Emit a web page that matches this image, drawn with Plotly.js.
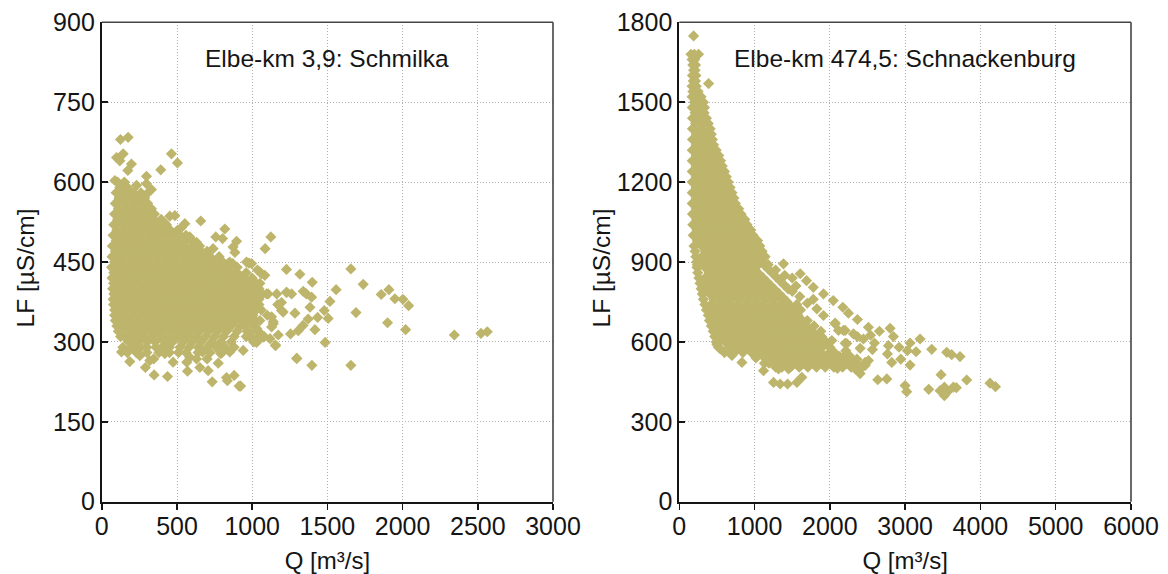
<!DOCTYPE html>
<html><head><meta charset="utf-8">
<script src="https://cdn.plot.ly/plotly-3.0.1.min.js"></script>
<style>html,body{margin:0;padding:0;background:#fff}</style></head>
<body><div id="chart" style="width:1168px;height:574px"></div>
<script>
const markerColor = '#BEB56C';
const xTicksLeft = [0,500,1000,1500,2000,2500,3000];
const yTicksLeft = [0,150,300,450,600,750,900];
const xTicksRight = [0,1000,2000,3000,4000,5000,6000];
const yTicksRight = [0,300,600,900,1200,1500,1800];
const titleLeft = 'Elbe-km 3,9: Schmilka';
const titleRight = 'Elbe-km 474,5: Schnackenburg';
const xTitle = 'Q [m³/s]';
const yTitle = 'LF [µS/cm]';

const schmilkaRowLF = [600,590,580,570,560,550,540,530,520,510,500,490,480,470,460,450,440,430,420,410,400,390,380,370,360,350,340,330,320,310,300,290,280];
const schmilkaRowQ = [
[105,150],[120,170],[95,150,210,260],[115,175,235,285],[90,145,205,265,305],[110,170,230,290,330],[85,140,200,260,320,350],
[105,165,225,285,345,395],[80,135,195,255,315,375,430],[100,160,220,280,340,400,455,505],
[75,130,190,250,310,370,430,490,520,560],[95,155,215,275,335,395,455,515,560,600],[70,125,185,245,305,365,425,485,545,600,650],
[90,150,210,270,330,390,450,510,570,630,660,700],[68,120,180,240,300,360,420,480,540,600,660,720,780],
[85,145,205,265,325,385,445,505,565,625,685,745,805,850],[65,115,175,235,295,355,415,475,535,595,655,715,775,825,900],
[80,140,200,260,320,380,440,500,560,620,680,740,800,860,890,960],[68,110,170,230,290,350,410,470,530,590,650,710,770,830,890,945,1000],
[78,135,195,255,315,375,435,495,555,615,675,735,795,855,915,970,1025],[72,105,165,225,285,345,405,465,525,585,645,705,765,825,885,945,1000,1045],
[80,130,190,250,310,370,430,490,550,610,670,730,790,850,910,970,1030,1065],[75,100,160,220,280,340,400,460,520,580,640,700,760,820,880,940,1000,1045],
[78,130,190,250,310,370,430,490,550,610,670,730,790,850,910,970,1020,1045],[85,105,160,220,280,340,400,460,520,580,640,700,760,820,880,940,1000,1025],
[85,135,195,255,315,375,435,495,555,615,675,735,795,855,915,975,1005],[90,110,165,225,285,345,405,465,525,585,645,705,765,825,885,945,985],
[100,140,200,260,320,380,440,500,560,620,680,740,800,860,920,950,1005],[110,170,230,290,350,410,470,530,590,650,710,770,830,900,965,1040],
[125,150,205,265,325,385,445,505,565,625,690,750,810,880,960,1050],[180,235,300,355,420,470,540,600,660,730,790,860,1010],
[140,200,260,300,360,400,450,520,580,640,700,760,820,880],[170,230,300,380,450,560,640,720,800]];
const schmilkaExtraQ = [124,175,463,503,392,142,98,197,297,173,120,87,231,297,330,197,297,452,486,552,530,658,818,803,758,1124,1086,896,873,885,630,585,740,700,
962,996,1228,1317,1399,1051,1084,1051,840,870,900,940,978,1656,1738,1558,1858,1909,1949,2002,2040,1517,1690,1900,2020,2344,2521,2563,1485,1297,1397,1656,1155,940,923,
1339,1360,1395,1384,1479,1435,1505,1284,1417,1372,1338,1306,1255,1173,1228,1262,1195,1206,1140,1106,1062,1035,1100,1050,1020,1040,1080,1000,
131,186,290,348,437,319,253,474,570,565,652,707,734,829,880,835,913,774,700,585,630,419,345,510,851,790,670,1029,1118,1155,1295,
1095,1163,1229,1060,1040,1129,1195,1170,1051,1030,985,1072,1018,1129,1018,1140];
const schmilkaExtraLF = [680,684,653,636,623,653,646,634,611,622,640,603,594,597,586,581,577,536,537,522,515,527,512,494,497,497,475,489,478,468,487,497,475,468,
450,447,436,427,412,431,425,410,447,447,430,421,448,437,408,398,389,398,381,380,368,376,355,336,323,313,316,319,299,269,256,256,294,284,217,
395,390,384,365,359,346,344,354,323,343,331,321,315,313,393,390,374,356,334,390,428,435,350,385,340,320,310,305,
281,263,252,238,235,265,274,262,245,262,252,246,225,233,237,227,217,260,268,271,268,278,268,280,281,278,281,299,306,293,269,
390,390,393,360,365,347,359,370,340,325,315,309,305,328,385,338];

const schnackRowLF = [1680,1660,1640,1620,1600,1580,1560,1540,1520,1500,1480,1460,1440,1420,1400,1380,1360,1340,1320,1300,1280,1260,1240,1220,1200,1180,1160,1140,1120,1100,1080,1060,1040,1020,1000,980,960,940,920,900,890,880,860,840,820,800,780,760,740,720,700,680,660,640,620,600,580,560,540,520,505];
const schnackRowQ = [
[155,200,256],[170,205],[180,215],[190,210],[175,220],[185,215],[170,225],[180,250],[170,240,290],[200,320],[172,260,335],[210,330],[175,280,360],[215,330,385],[175,290,410],[225,340,425],
[175,285,400,440],[225,340,455],[172,285,400,490],[225,340,455,525],[172,285,400,510,548],[225,340,455,570],[172,285,400,515,600],[225,340,455,570,625],[172,285,400,515,630,650],[225,340,455,570,675],
[172,285,400,515,630,700],[225,340,455,570,685,725],[172,285,400,515,630,745],[225,340,455,570,685,790],[175,285,400,515,630,745,820],[230,340,455,570,685,800,870],[180,285,400,515,630,745,860,900],
[235,345,460,575,690,805,920,950],[185,290,405,520,635,750,865,980],[240,350,465,580,695,810,925,1040],[195,295,410,525,640,755,870,985,1070],[210,350,465,580,695,810,925,1040,1100],[220,300,415,530,645,760,875,990,1105,1140],
[230,355,470,585,700,815,930,1045,1000],[240,285,400,515,630,745,860,975,1050],[235,340,455,570,685,800,915,960],[245,400,515,630,745,860,975,1030],[260,340,455,570,685,800,915,1030,1090],[275,400,515,630,745,860,975,1090,1160],[290,345,460,575,690,805,920,1035,1150,1240],
[305,405,520,635,750,865,980,1095,1210,1300],[320,460,575,690,805,920,1035,1150,1265,1380],[340,420,535,650,765,880,995,1110,1225,1340,1455,1560],[360,480,595,710,825,940,1055,1170,1285,1400,1515,1610],
[385,425,540,655,770,885,1000,1115,1230,1345,1460,1575],[400,485,600,715,830,945,1060,1175,1290,1405,1520,1635,1700],[425,545,660,775,890,1005,1120,1235,1350,1465,1580,1695,1790],[450,490,605,720,835,950,1065,1180,1295,1410,1525,1640,1755,1880],
[470,550,665,780,895,1010,1125,1240,1355,1470,1585,1700,1815,1890],[490,610,725,840,955,1070,1185,1300,1415,1530,1645,1760,1875,1950],[520,670,785,900,1015,1130,1245,1360,1475,1590,1705,1820,1900,2000],
[600,730,845,960,1075,1190,1305,1420,1535,1650,1765,1880,1995,2060],[1018,1133,1248,1363,1478,1593,1708,1823,1938,2053,2168,2250],[1130,1190,1305,1420,1535,1650,1765,1880,1995,2110,2225,2345],[1280,1363,1478,1593,1708,1823,1938,2053,2168,2283,2400]];
const schnackExtraQ = [190,389,1128,1234,1340,1446,1180,1280,1384,1400,1500,1606,1550,1690,1780,1915,2045,1500,1600,1700,1780,1827,1915,2070,2180,2225,
2172,2247,2366,2512,2658,2800,2844,3065,3198,3353,3552,3618,3729,3145,3030,2919,2778,2765,2822,2942,3065,3477,3818,4127,4200,2636,2756,2999,3021,3313,3464,3521,3521,3560,3640,3680,
2203,2212,2402,2565,2592,2446,2540,2313,2203,2070,2114,2026,2365,2336,2402,2468,2512,2430,2100,
544,699,832,1119,1252,1340,1438,1562,1628,1318,1450,500,
1008,1060,1115,1168,1221,1274,1327,1380,1433,1180,1287,1393,2060,2130,2190,2260,2300,2360,2400,2470];
const schnackExtraLF = [1749,1570,889,859,829,799,890,870,893,850,840,856,810,830,805,780,755,790,770,745,760,724,699,668,643,594,
730,708,684,655,640,651,620,596,611,572,561,552,545,563,567,580,586,555,523,535,513,477,457,445,432,458,461,436,413,422,417,398,430,412,430,428,
595,567,576,571,596,611,625,630,643,671,643,605,620,499,481,523,530,505,500,
574,549,523,492,448,442,442,448,467,499,499,590,
869,855,840,825,810,795,780,765,750,874,844,814,525,545,530,548,515,535,498,512];

function flatQ(rows, extra){ return rows.flat().concat(extra); }
function flatLF(rowLF, rows, extra){ return rows.flatMap((r,i)=>r.map(()=>rowLF[i])).concat(extra); }
const scatter = (x,y,xa,ya)=>({type:'scatter',mode:'markers',x,y,xaxis:xa,yaxis:ya,cliponaxis:false,hoverinfo:'skip',
  marker:{symbol:'diamond',size:8.6,color:markerColor,line:{width:0}}});
const data = [
 scatter(flatQ(schmilkaRowQ,schmilkaExtraQ),flatLF(schmilkaRowLF,schmilkaRowQ,schmilkaExtraLF),'x','y'),
 scatter(flatQ(schnackRowQ,schnackExtraQ),flatLF(schnackRowLF,schnackRowQ,schnackExtraLF),'x2','y2')
];
const W=1168,H=574, font='"Liberation Sans",Arial,sans-serif', fs=25, ink='#151515';
const xAxis=(l,r,ticks,anchor,title)=>({domain:[l/W,r/W],range:[ticks[0],ticks[ticks.length-1]],tickmode:'array',tickvals:ticks,ticktext:ticks.map(String),anchor,
  ticks:'outside',ticklen:6,tickwidth:1.5,tickcolor:ink,ticklabelstandoff:-5,showline:true,linecolor:ink,linewidth:2,showgrid:true,gridcolor:'#b0b0b0',gridwidth:1,griddash:'1px,2px',zeroline:false,
  tickfont:{family:font,size:fs,color:ink},title:{text:title,font:{family:font,size:24,color:ink},standoff:13}});
const yAxis=(ticks,anchor)=>({domain:[(H-501.7)/H,(H-22.3)/H],range:[ticks[0],ticks[ticks.length-1]],tickmode:'array',tickvals:ticks,ticktext:ticks.map(String),anchor,
  ticks:'inside',ticklen:6,tickwidth:1.5,tickcolor:ink,showline:true,linecolor:ink,linewidth:2,showgrid:true,gridcolor:'#b0b0b0',gridwidth:1,griddash:'1px,2px',zeroline:false,
  tickfont:{family:font,size:fs,color:ink}});
const frame=(xr,yr)=>[
 {type:'line',xref:xr+' domain',yref:yr+' domain',x0:0,x1:1,y0:1,y1:1,line:{color:'#444',width:1.6}},
 {type:'line',xref:xr+' domain',yref:yr+' domain',x0:1,x1:1,y0:0,y1:1,line:{color:'#444',width:1.6}}];
const label=(xr,yr,text,q,lf)=>({xref:xr,yref:yr,x:q,y:lf,text,showarrow:false,xanchor:'center',yanchor:'middle',font:{family:font,size:24.5,color:ink}});
const yLabel=(px)=>({xref:'paper',yref:'paper',x:px/W,y:(H-268.5)/H,text:yTitle,textangle:-90,showarrow:false,xanchor:'center',yanchor:'middle',font:{family:font,size:24.5,color:ink}});
const layout={width:W,height:H,paper_bgcolor:'#fff',plot_bgcolor:'#fff',showlegend:false,margin:{l:0,r:0,t:0,b:0,pad:0},
 xaxis:xAxis(101.8,553,xTicksLeft,'y',xTitle),yaxis:yAxis(yTicksLeft,'x'),
 xaxis2:xAxis(679.3,1131,xTicksRight,'y2',xTitle),yaxis2:yAxis(yTicksRight,'x2'),
 shapes:frame('x','y').concat(frame('x2','y2')),
 annotations:[label('x','y',titleLeft,1500,832),label('x2','y2',titleRight,3000,1664),yLabel(25),yLabel(601)]};
Plotly.newPlot('chart',data,layout,{staticPlot:true,displayModeBar:false});
</script></body></html>
